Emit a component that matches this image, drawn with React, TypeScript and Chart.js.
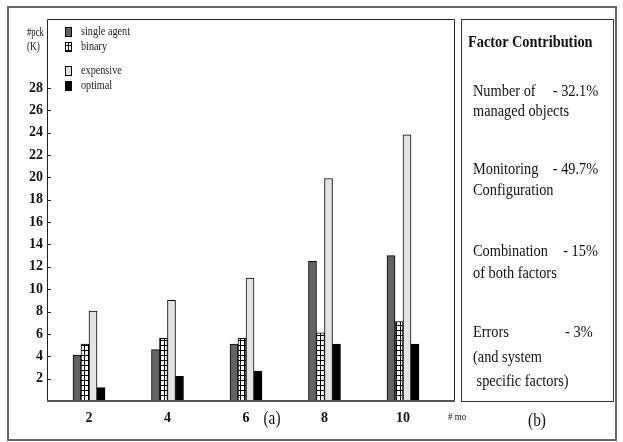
import React, { useEffect, useRef } from "react";
import { Chart, registerables } from "chart.js";
Chart.register(...registerables);

const categories = [2, 4, 6, 8, 10];
const seriesLabels = ["single agent", "binary", "expensive", "optimal"];
const singleAgent = [4.1, 4.6, 5.1, 12.5, 13.0];
const binary = [5.1, 5.6, 5.6, 6.1, 7.1];
const expensive = [8.05, 9.0, 11.0, 19.9, 23.8];
const optimal = [1.2, 2.2, 2.65, 5.1, 5.1];
const yTickValues = [2, 4, 6, 8, 10, 12, 14, 16, 18, 20, 22, 24, 26, 28];

const factorNames = ["Number of", "Monitoring", "Combination", "Errors"];
const factorShares = ["- 32.1%", "- 49.7%", "- 15%", "- 3%"];
const factorSubLines = [["managed objects"], ["Configuration"], ["of both factors"], ["(and system", " specific factors)"]];

const SERIF = "'Liberation Serif', 'Times New Roman', serif";

function makePattern(): CanvasPattern | string {
  const pc = document.createElement("canvas");
  pc.width = 4;
  pc.height = 5;
  const c = pc.getContext("2d");
  if (!c) return "#fff";
  c.fillStyle = "#fff";
  c.fillRect(0, 0, 4, 5);
  c.fillStyle = "#000";
  c.fillRect(0, 0, 4, 1);
  c.fillRect(0, 0, 1, 5);
  const p = c.createPattern(pc, "repeat");
  return p || "#fff";
}

const framePlugin = {
  id: "framePlugin",
  afterDraw(chart: any) {
    const { ctx, chartArea } = chart;
    const { left, right, top, bottom } = chartArea;
    ctx.save();
    ctx.strokeStyle = "#222";
    ctx.lineWidth = 1;
    ctx.beginPath();
    ctx.moveTo(left + 0.5, bottom);
    ctx.lineTo(left + 0.5, top + 0.5);
    ctx.lineTo(right - 0.5, top + 0.5);
    ctx.lineTo(right - 0.5, bottom);
    ctx.stroke();
    ctx.strokeStyle = "#555";
    ctx.lineWidth = 2;
    ctx.beginPath();
    ctx.moveTo(left, bottom);
    ctx.lineTo(right, bottom);
    ctx.stroke();
    const ys = chart.scales.y;
    ctx.strokeStyle = "#222";
    ctx.lineWidth = 1;
    ys.ticks.forEach((t: any) => {
      const py = Math.round(ys.getPixelForValue(t.value)) + 0.5;
      ctx.beginPath();
      ctx.moveTo(left, py);
      ctx.lineTo(left + 4, py);
      ctx.stroke();
    });
    ctx.restore();
  },
};

const legendRows = [32, 47, 71, 86];
const legendPlugin = {
  id: "innerLegend",
  afterDraw(chart: any) {
    const { ctx } = chart;
    ctx.save();
    chart.data.datasets.forEach((ds: any, i: number) => {
      const cy = legendRows[i];
      ctx.fillStyle = ds.backgroundColor;
      ctx.fillRect(65, cy - 5, 7, 10);
      ctx.strokeStyle = "#000";
      ctx.lineWidth = 1;
      ctx.strokeRect(65.5, cy - 4.5, 6, 9);
      ctx.save();
      ctx.translate(81, cy);
      ctx.scale(0.85, 1);
      ctx.fillStyle = "#222";
      ctx.font = `12px ${SERIF}`;
      ctx.textBaseline = "middle";
      ctx.textAlign = "left";
      ctx.fillText(ds.label, 0, 0);
      ctx.restore();
    });
    ctx.restore();
  },
};

function Txt(props: { x: number; y: number; size: number; align?: "left" | "center" | "right"; bold?: boolean; sx?: number; children: any }) {
  const { x, y, size, align = "left", bold, sx = 1, children } = props;
  const h = size * 1.3;
  const style: any = {
    position: "absolute",
    top: y - h / 2,
    height: h,
    lineHeight: `${h}px`,
    fontSize: size,
    fontFamily: SERIF,
    fontWeight: bold ? "bold" : "normal",
    color: "#111",
    whiteSpace: "pre",
    transform: `scaleX(${sx})`,
  };
  if (align === "left") {
    style.left = x;
    style.transformOrigin = "left center";
  } else if (align === "right") {
    style.right = 623 - x;
    style.transformOrigin = "right center";
  } else {
    style.left = x - 100;
    style.width = 200;
    style.textAlign = "center";
    style.transformOrigin = "center center";
  }
  return <div style={style}>{children}</div>;
}

export default function App() {
  const ref = useRef<HTMLCanvasElement | null>(null);
  useEffect(() => {
    if (!ref.current) return;
    const pattern = makePattern();
    const series = [singleAgent, binary, expensive, optimal];
    const fills: any[] = ["#636363", pattern, "#e3e3e3", "#000"];
    const chart = new Chart(ref.current, {
      type: "bar",
      data: {
        datasets: series.map((arr, si) => ({
          label: seriesLabels[si],
          data: categories.map((c, i) => ({ x: c, y: arr[i] })),
          backgroundColor: fills[si],
          borderColor: "#000",
          borderWidth: 1,
          barThickness: 8,
        })),
      },
      options: {
        animation: false,
        responsive: false,
        maintainAspectRatio: false,
        layout: { padding: { left: 0, top: 19, right: 168, bottom: 0 } },
        plugins: { legend: { display: false }, tooltip: { enabled: false } },
        scales: {
          x: {
            type: "linear",
            offset: false,
            min: 0.93,
            max: 11.325,
            afterBuildTicks: (s: any) => {
              s.ticks = categories.map((v) => ({ value: v }));
            },
            afterFit: (s: any) => {
              s.height = 41;
            },
            grid: { display: false, drawTicks: false },
            border: { display: false },
            ticks: {
              padding: 9,
              autoSkip: false,
              maxRotation: 0,
              color: "#111",
              font: { size: 14, weight: "bold", family: SERIF },
            },
          },
          y: {
            type: "linear",
            min: 0,
            max: 34.17,
            afterBuildTicks: (s: any) => {
              s.ticks = yTickValues.map((v) => ({ value: v }));
            },
            afterFit: (s: any) => {
              s.width = 47;
            },
            grid: { display: false, drawTicks: false },
            border: { display: false },
            ticks: {
              padding: 4,
              autoSkip: false,
              color: "#111",
              font: { size: 14, weight: "bold", family: SERIF },
            },
          },
        },
      } as any,
      plugins: [framePlugin, legendPlugin],
    });
    return () => chart.destroy();
  }, []);

  const factorY = [[91, 111], [169, 190], [251, 273], [332, 357, 381]];
  const shareRight = [598, 598, 598, 593];
  const fs = 16.5;
  const fx = 0.87;

  return (
    <div style={{ position: "absolute", left: 0, top: 0, width: 623, height: 442, background: "#fff", overflow: "hidden" }}>
      <canvas ref={ref} width={623} height={442} style={{ position: "absolute", left: 0, top: 0, width: 623, height: 442 }} />
      <div style={{ position: "absolute", left: 7, top: 6, width: 610, height: 435, border: "2px solid #666", boxSizing: "border-box" }} />
      <div style={{ position: "absolute", left: 461, top: 19, width: 153, height: 383, border: "1.5px solid #333", boxSizing: "border-box" }} />
      <Txt x={27} y={32} size={11.5} sx={0.75}>#pck</Txt>
      <Txt x={27} y={46} size={11.5} sx={0.8}>(K)</Txt>
      <Txt x={272} y={419} size={18} sx={0.85} align="center">(a)</Txt>
      <Txt x={448} y={417} size={10.5} sx={0.85}># mo</Txt>
      <Txt x={537} y={421} size={18} sx={0.85} align="center">(b)</Txt>
      <Txt x={468} y={42} size={fs} sx={fx} bold>Factor Contribution</Txt>
      {factorNames.map((n, i) => (
        <React.Fragment key={n}>
          <Txt x={473} y={factorY[i][0]} size={fs} sx={fx}>{n}</Txt>
          <Txt x={shareRight[i]} y={factorY[i][0]} size={fs} sx={fx} align="right">{factorShares[i]}</Txt>
          {factorSubLines[i].map((s, j) => (
            <Txt key={s} x={473} y={factorY[i][j + 1]} size={fs} sx={fx}>{s}</Txt>
          ))}
        </React.Fragment>
      ))}
    </div>
  );
}
